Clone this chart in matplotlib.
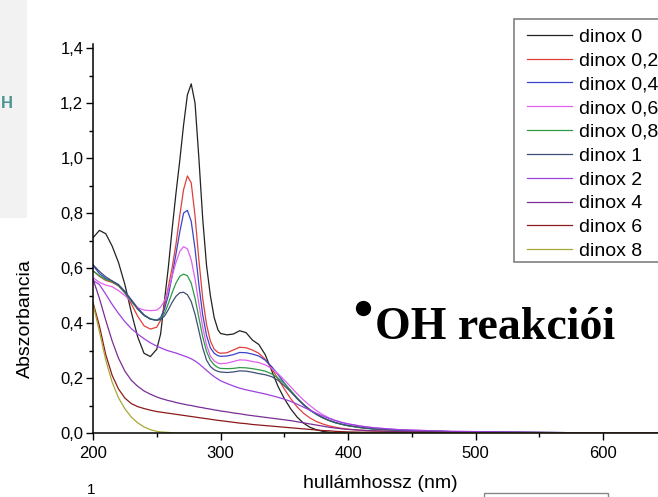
import numpy as np
import matplotlib.pyplot as plt
from matplotlib.patches import Rectangle
from matplotlib.lines import Line2D
from matplotlib.ticker import MultipleLocator, FuncFormatter

plt.rcParams['font.family'] = ['Liberation Sans', 'DejaVu Sans']

# wavelength grid (nm), finer around the 270 nm band
wavelength = [200, 205, 210, 215, 220, 225, 230, 235, 240, 245, 250,
              253, 256, 259, 262, 265, 268, 271, 274, 277, 280, 283, 286, 289, 292, 295, 298,
              300, 305, 310, 315, 320, 325, 330, 335, 340, 345, 350, 355, 360, 365, 370,
              375, 380, 385, 390, 395, 400,
              410, 420, 440, 460, 480, 500, 520, 550, 600, 650]

dinox_0 = [0.71, 0.737, 0.725, 0.68, 0.62, 0.54, 0.44, 0.35, 0.29, 0.278, 0.305,
           0.36, 0.48, 0.60, 0.74, 0.87, 0.99, 1.12, 1.23, 1.27, 1.20, 1.00, 0.78, 0.61, 0.50, 0.42, 0.375,
           0.362, 0.357, 0.36, 0.372, 0.365, 0.338, 0.322, 0.285, 0.228, 0.17, 0.125, 0.088, 0.058, 0.036, 0.021,
           0.012, 0.006, 0.003, 0.001, 0.0, 0.0,
           0.0, 0.0, 0.0, 0.0, 0.0, 0.0, 0.0, 0.0, 0.0, 0.0]
dinox_02 = [0.59, 0.57, 0.555, 0.548, 0.535, 0.51, 0.47, 0.425, 0.39, 0.378, 0.385,
            0.41, 0.46, 0.53, 0.60, 0.685, 0.79, 0.885, 0.935, 0.91, 0.79, 0.63, 0.49, 0.395, 0.335, 0.305, 0.293,
            0.29, 0.292, 0.302, 0.312, 0.31, 0.302, 0.29, 0.268, 0.235, 0.198, 0.16, 0.125, 0.095, 0.072, 0.055,
            0.042, 0.033, 0.026, 0.021, 0.017, 0.014,
            0.01, 0.008, 0.005, 0.004, 0.003, 0.002, 0.0015, 0.001, 0.0, 0.0]
dinox_04 = [0.61, 0.58, 0.562, 0.553, 0.54, 0.515, 0.485, 0.455, 0.43, 0.415, 0.41,
            0.42, 0.45, 0.50, 0.57, 0.65, 0.73, 0.80, 0.81, 0.77, 0.67, 0.54, 0.43, 0.355, 0.31, 0.29, 0.281,
            0.279, 0.28, 0.285, 0.293, 0.292, 0.287, 0.28, 0.265, 0.242, 0.213, 0.182, 0.152, 0.125, 0.102, 0.083,
            0.068, 0.056, 0.046, 0.038, 0.032, 0.027,
            0.02, 0.015, 0.01, 0.007, 0.005, 0.004, 0.003, 0.002, 0.0005, 0.0]
dinox_06 = [0.565, 0.548, 0.538, 0.532, 0.518, 0.50, 0.478, 0.456, 0.447, 0.445, 0.447,
            0.458, 0.48, 0.52, 0.57, 0.62, 0.66, 0.678, 0.67, 0.63, 0.56, 0.47, 0.385, 0.32, 0.28, 0.262, 0.254,
            0.252, 0.254, 0.26, 0.266, 0.265, 0.26, 0.256, 0.248, 0.235, 0.216, 0.193, 0.168, 0.143, 0.12, 0.10,
            0.082, 0.067, 0.055, 0.046, 0.039, 0.033,
            0.025, 0.019, 0.012, 0.009, 0.006, 0.005, 0.004, 0.002, 0.0005, 0.0]
dinox_08 = [0.59, 0.572, 0.558, 0.55, 0.536, 0.51, 0.48, 0.45, 0.428, 0.415, 0.41,
            0.415, 0.435, 0.47, 0.51, 0.545, 0.57, 0.578, 0.572, 0.545, 0.49, 0.42, 0.35, 0.297, 0.265, 0.248, 0.238,
            0.235, 0.234, 0.235, 0.238, 0.237, 0.234, 0.23, 0.225, 0.215, 0.20, 0.18, 0.155, 0.128, 0.104, 0.084,
            0.068, 0.055, 0.045, 0.037, 0.031, 0.026,
            0.019, 0.014, 0.009, 0.007, 0.005, 0.004, 0.003, 0.002, 0.0005, 0.0]
dinox_1 = [0.612, 0.588, 0.568, 0.553, 0.538, 0.513, 0.483, 0.452, 0.428, 0.414, 0.41,
           0.413, 0.425, 0.448, 0.475, 0.497, 0.51, 0.512, 0.503, 0.478, 0.432, 0.372, 0.31, 0.265, 0.242, 0.23, 0.224,
           0.222, 0.22, 0.222, 0.226, 0.225, 0.221, 0.216, 0.212, 0.205, 0.192, 0.172, 0.15, 0.126, 0.104, 0.085,
           0.069, 0.056, 0.046, 0.038, 0.032, 0.027,
           0.02, 0.015, 0.01, 0.007, 0.005, 0.004, 0.003, 0.002, 0.0005, 0.0]
dinox_2 = [0.555, 0.54, 0.505, 0.468, 0.435, 0.405, 0.38, 0.36, 0.343, 0.328, 0.316,
           0.31, 0.304, 0.299, 0.295, 0.291, 0.286, 0.281, 0.276, 0.27, 0.262, 0.252, 0.24, 0.228, 0.216, 0.205, 0.196,
           0.19, 0.18, 0.171, 0.163, 0.157, 0.152, 0.147, 0.142, 0.136, 0.13, 0.123, 0.115, 0.105, 0.094, 0.083,
           0.072, 0.062, 0.053, 0.045, 0.038, 0.033,
           0.025, 0.019, 0.012, 0.009, 0.006, 0.005, 0.004, 0.002, 0.0005, 0.0]
dinox_4 = [0.56, 0.49, 0.41, 0.335, 0.272, 0.225, 0.192, 0.17, 0.153, 0.141, 0.131,
           0.126, 0.122, 0.118, 0.115, 0.111, 0.108, 0.105, 0.102, 0.10, 0.097, 0.094, 0.092, 0.089, 0.087, 0.084, 0.082,
           0.08, 0.077, 0.073, 0.07, 0.066, 0.063, 0.06, 0.057, 0.054, 0.051, 0.048, 0.045, 0.041, 0.037, 0.033,
           0.029, 0.025, 0.021, 0.018, 0.015, 0.013,
           0.01, 0.008, 0.005, 0.004, 0.003, 0.002, 0.0015, 0.001, 0.0, 0.0]
dinox_6 = [0.475, 0.39, 0.285, 0.21, 0.16, 0.127, 0.107, 0.096, 0.089, 0.083, 0.078,
           0.076, 0.074, 0.072, 0.07, 0.068, 0.066, 0.064, 0.062, 0.06, 0.058, 0.056, 0.054, 0.052, 0.05, 0.048, 0.046,
           0.045, 0.042, 0.039, 0.036, 0.034, 0.031, 0.029, 0.027, 0.025, 0.023, 0.021, 0.019, 0.017, 0.015, 0.013,
           0.011, 0.009, 0.008, 0.006, 0.005, 0.004,
           0.003, 0.003, 0.002, 0.002, 0.001, 0.001, 0.001, 0.0, 0.0, 0.0]
dinox_8 = [0.47, 0.37, 0.265, 0.185, 0.128, 0.088, 0.058, 0.037, 0.022, 0.012, 0.006,
           0.004, 0.003, 0.002, 0.001, 0.0, 0.0, 0.0, 0.0, 0.0, 0.0, 0.0, 0.0, 0.0, 0.0, 0.0, 0.0,
           0.0, 0.0, 0.0, 0.0, 0.0, 0.0, 0.0, 0.0, 0.0, 0.0, 0.0, 0.0, 0.0, 0.0, 0.0,
           0.0, 0.0, 0.0, 0.0, 0.0, 0.0,
           0.0, 0.0, 0.0, 0.0, 0.0, 0.0, 0.0, 0.0, 0.0, 0.0]

series = [dinox_0, dinox_02, dinox_04, dinox_06, dinox_08,
          dinox_1, dinox_2, dinox_4, dinox_6, dinox_8]
labels = ['dinox 0', 'dinox 0,2', 'dinox 0,4', 'dinox 0,6', 'dinox 0,8',
          'dinox 1', 'dinox 2', 'dinox 4', 'dinox 6', 'dinox 8']
colors = ['#222222', '#e0403a', '#3a44c8', '#e060f0', '#2e9a44',
          '#3e4e74', '#a040e0', '#7a2e96', '#8b1a1a', '#a8a838']

W, H = 658, 497
fig = plt.figure(figsize=(W / 100, H / 100), dpi=100)

# grey slide panel on the left edge
fig.patches.append(Rectangle((0, 1 - 218 / H), 26.5 / W, 218 / H, transform=fig.transFigure,
                             facecolor='#f2f2f2', edgecolor='none', zorder=0))
fig.text(0.5 / W, 1 - 104 / H, 'H', color='#4d9494', fontweight='bold', fontsize=12,
         ha='left', va='center')

ax = fig.add_axes([93 / W, 64 / H, 574 / W, 389 / H])
lines = []
for y, name, c in zip(series, labels, colors):
    lines += ax.plot(wavelength, y, color=c, lw=0.9, label=name)

ax.set_xlim(200, 650)
ax.set_ylim(0, 1.415)
ax.spines['top'].set_visible(False)
ax.spines['right'].set_visible(False)
for s in ('left', 'bottom'):
    ax.spines[s].set_linewidth(1.1)

ax.xaxis.set_major_locator(MultipleLocator(100))
ax.xaxis.set_minor_locator(MultipleLocator(50))
ax.yaxis.set_major_locator(MultipleLocator(0.2))
ax.yaxis.set_minor_locator(MultipleLocator(0.1))
ax.yaxis.set_major_formatter(FuncFormatter(lambda v, p: f"{v:.1f}".replace('.', ',')))
ax.xaxis.set_major_formatter(FuncFormatter(lambda v, p: f"{v:.0f}"))
ax.tick_params(which='major', direction='out', length=5, width=1, labelsize=12)
ax.tick_params(which='minor', direction='out', length=3, width=1)
ax.tick_params(axis='y', pad=2)
ax.tick_params(axis='x', pad=4)

fig.text(25 / W, 1 - 319 / H, 'Abszorbancia', rotation=90, ha='center', va='center', fontsize=14)
fig.text(380 / W, 1 - 484 / H, 'hullámhossz (nm)', ha='center', va='center', fontsize=14)

# legend with its own square frame
fig.patches.append(Rectangle((514 / W, 1 - 262 / H), 160 / W, 243 / H, transform=fig.transFigure,
                             facecolor='white', edgecolor='#808080', lw=1.2, zorder=2))
leg = fig.legend(handles=lines, labels=labels, loc='upper left',
                 bbox_to_anchor=(527 / W, 1 - 28 / H), bbox_transform=fig.transFigure,
                 frameon=False, fontsize=14, handlelength=2.3, handletextpad=0.35,
                 labelspacing=0.32, borderpad=0, borderaxespad=0)
leg.set_zorder(3)

# slide title
fig.add_artist(Line2D([363 / W], [1 - 308 / H], marker='o', ms=10, color='black',
                      transform=fig.transFigure))
fig.text(375 / W, 1 - 339 / H, 'OH reakciói', family=['Liberation Serif', 'DejaVu Serif'],
         fontweight='bold', fontsize=33, ha='left', va='baseline')

# bits of the slide below the chart
fig.text(91 / W, 1 - 483 / H, '1', fontsize=11, ha='center', va='top')
fig.patches.append(Rectangle((484 / W, -0.05), 124 / W, 0.05 + 4 / H, transform=fig.transFigure,
                             facecolor='white', edgecolor='#888888', lw=1.0))

fig.savefig('out.png', dpi=100)
